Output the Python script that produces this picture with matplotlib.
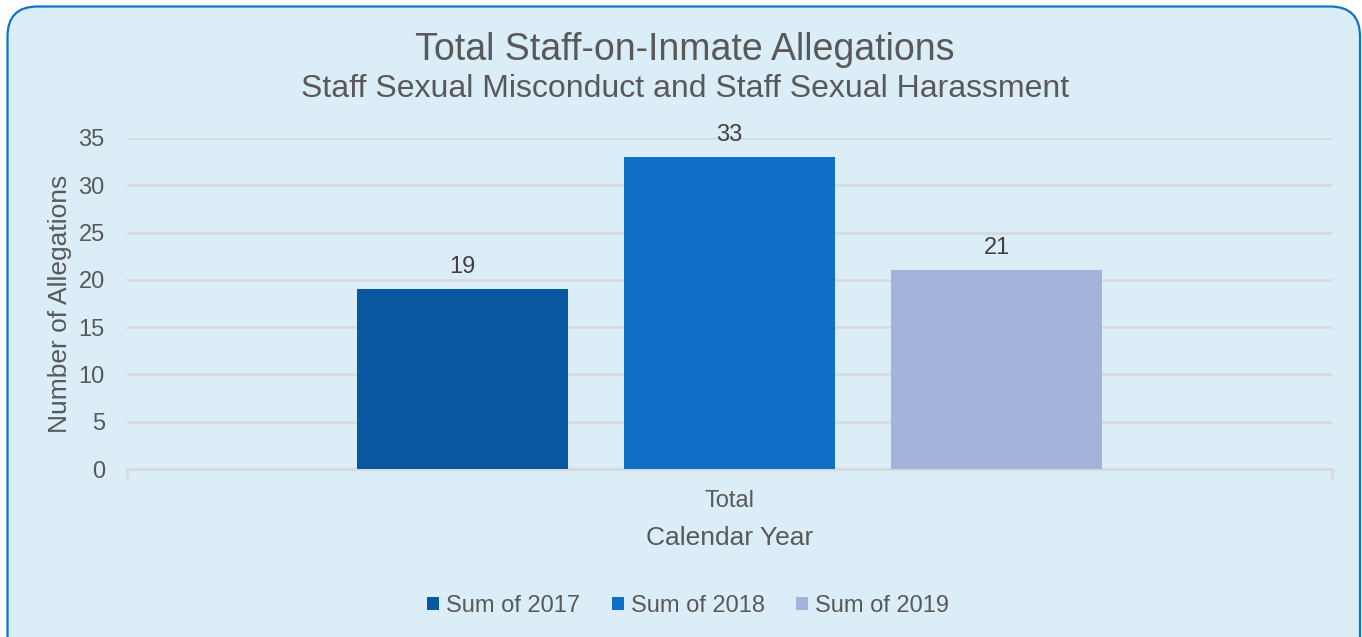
import matplotlib.pyplot as plt
from matplotlib.patches import FancyBboxPatch
import numpy as np

# chart data
category = ['Total']
series = ['Sum of 2017', 'Sum of 2018', 'Sum of 2019']
values = [19, 33, 21]
colors = ['#0a58a2', '#0f6fc6', '#a2b4dc']
yticks = [0, 5, 10, 15, 20, 25, 30, 35]

txt = '#595959'
plt.rcParams['font.family'] = ['Liberation Sans', 'DejaVu Sans']

fig = plt.figure(figsize=(13.62, 6.37), dpi=100)
fig.patch.set_facecolor('white')

# rounded background panel
panel = FancyBboxPatch((0.075, -0.3), 13.525, 6.605,
                       boxstyle='round,pad=0,rounding_size=0.3',
                       transform=fig.dpi_scale_trans,
                       facecolor='#dbeef7', edgecolor='#1170c8', linewidth=1.6,
                       zorder=-10)
fig.patches.append(panel)

ax = fig.add_axes([127/1362, 1 - 469/637, (1332-127)/1362, (469-138)/637])
ax.set_facecolor('none')

width = 0.175
step = 0.2216
for i, (name, val, col) in enumerate(zip(series, values, colors)):
    x = (i - 1) * step
    b = ax.bar(x, val, width=width, color=col, label=name, zorder=3)
    ax.bar_label(b, labels=[str(val)], padding=8, fontsize=17, color='#404040')

ax.set_xlim(-0.5, 0.5)
ax.set_ylim(0, 35)
ax.set_yticks(yticks)
ax.set_xticks([0])
ax.set_xticklabels(category)
ax.set_xticks([-0.5, 0.5], minor=True)
ax.tick_params(axis='x', which='major', length=0, pad=15, labelsize=17, labelcolor=txt)
ax.tick_params(axis='x', which='minor', length=7, width=2, color='#d9d9d9', direction='out')
ax.tick_params(axis='y', length=0, pad=16, labelsize=17, labelcolor=txt)
ax.yaxis.grid(True, color='#d9d9d9', linewidth=2, zorder=0)
for s in ['top', 'right', 'left']:
    ax.spines[s].set_visible(False)
ax.spines['bottom'].set_color('#d9d9d9')
ax.spines['bottom'].set_linewidth(2)

ax.set_xlabel('Calendar Year', fontsize=19, color=txt, labelpad=10)
ax.set_ylabel('Number of Allegations', fontsize=19, color=txt, labelpad=5)

fig.text(0.503, 1 - 50/637, 'Total Staff-on-Inmate Allegations', ha='center', va='center',
         fontsize=27, color=txt)
fig.text(0.503, 1 - 89/637, 'Staff Sexual Misconduct and Staff Sexual Harassment', ha='center',
         va='center', fontsize=23, color=txt)

leg = fig.legend(loc='center', bbox_to_anchor=(688/1362, 1 - 606/637), ncol=3, frameon=False,
                 fontsize=17, handlelength=0.51, handleheight=0.51, handletextpad=0.3,
                 columnspacing=1.33)
for t in leg.get_texts():
    t.set_color(txt)

fig.savefig('out.png', dpi=100)
